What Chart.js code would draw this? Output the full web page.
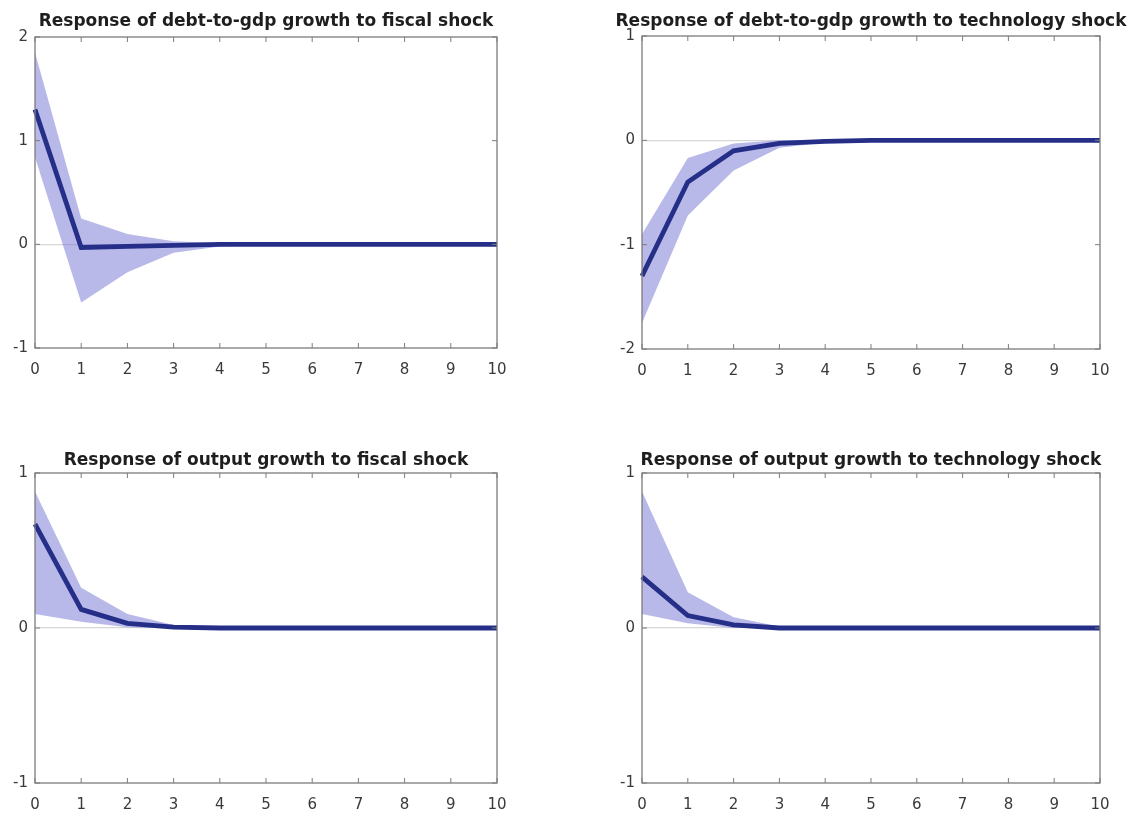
<!DOCTYPE html>
<html>
<head>
<meta charset="utf-8">
<script src="https://cdn.jsdelivr.net/npm/chart.js@4.4.1/dist/chart.umd.min.js"></script>
<style>
  body { margin:0; width:1142px; height:821px; background:#fff; position:relative; overflow:hidden; }
  canvas { position:absolute; left:0; top:0; }
  .ttl { position:absolute; font:bold 17px 'DejaVu Sans', sans-serif; color:#1e1e1e; white-space:nowrap; transform:translate(-50%,-50%); }
</style>
</head>
<body>
<canvas id="c1" width="1142" height="821"></canvas>
<canvas id="c2" width="1142" height="821"></canvas>
<canvas id="c3" width="1142" height="821"></canvas>
<canvas id="c4" width="1142" height="821"></canvas>
<div class="ttl" style="left:266px;top:20px">Response of debt-to-gdp growth to fiscal shock</div>
<div class="ttl" style="left:871px;top:20px">Response of debt-to-gdp growth to technology shock</div>
<div class="ttl" style="left:266px;top:459px">Response of output growth to fiscal shock</div>
<div class="ttl" style="left:871px;top:459px">Response of output growth to technology shock</div>

<script>
// horizons (x axis)
const horizons = ['0','1','2','3','4','5','6','7','8','9','10'];

// debt-to-gdp growth, fiscal shock
const fiscalDebtIrf   = [1.30, -0.03, -0.02, -0.01, 0.00, 0, 0, 0, 0, 0, 0];
const fiscalDebtUpper = [1.85,  0.25,  0.10,  0.03, 0.01, 0, 0, 0, 0, 0, 0];
const fiscalDebtLower = [0.84, -0.56, -0.27, -0.08, -0.02, 0, 0, 0, 0, 0, 0];
const fiscalDebtTicks = [-1, 0, 1, 2];

// debt-to-gdp growth, technology shock
const techDebtIrf   = [-1.30, -0.40, -0.10, -0.03, -0.01, 0, 0, 0, 0, 0, 0];
const techDebtUpper = [-0.90, -0.17, -0.03,  0.00,  0.00, 0, 0, 0, 0, 0, 0];
const techDebtLower = [-1.75, -0.72, -0.29, -0.07, -0.02, 0, 0, 0, 0, 0, 0];
const techDebtTicks = [-2, -1, 0, 1];

// output growth, fiscal shock
const fiscalOutIrf   = [0.67, 0.12, 0.03, 0.005, 0, 0, 0, 0, 0, 0, 0];
const fiscalOutUpper = [0.88, 0.26, 0.09, 0.02,  0.005, 0, 0, 0, 0, 0, 0];
const fiscalOutLower = [0.09, 0.04, 0.005, 0,    0, 0, 0, 0, 0, 0, 0];
const fiscalOutTicks = [-1, 0, 1];

// output growth, technology shock
const techOutIrf   = [0.33, 0.08, 0.02, 0.00, 0, 0, 0, 0, 0, 0, 0];
const techOutUpper = [0.88, 0.23, 0.07, 0.01, 0, 0, 0, 0, 0, 0, 0];
const techOutLower = [0.09, 0.03, 0.00, 0.00, 0, 0, 0, 0, 0, 0, 0];
const techOutTicks = [-1, 0, 1];

const LINE = '#262f88';
const BAND = 'rgba(118,118,212,0.52)';
const Y_W = 30, X_H = 34;

// axes box with inward ticks, matlab style
const boxPlugin = {
  id: 'box',
  afterDatasetsDraw(chart) {
    const { ctx, chartArea: a, scales: { x, y } } = chart;
    ctx.save();
    ctx.strokeStyle = '#7c7c7c';
    ctx.lineWidth = 1.3;
    ctx.strokeRect(a.left, a.top, a.right - a.left, a.bottom - a.top);
    ctx.beginPath();
    x.ticks.forEach((t, i) => {
      const px = x.getPixelForTick(i);
      ctx.moveTo(px, a.bottom); ctx.lineTo(px, a.bottom - 5);
      ctx.moveTo(px, a.top); ctx.lineTo(px, a.top + 5);
    });
    y.ticks.forEach((t, i) => {
      const py = y.getPixelForTick(i);
      ctx.moveTo(a.left, py); ctx.lineTo(a.left + 5, py);
      ctx.moveTo(a.right, py); ctx.lineTo(a.right - 5, py);
    });
    ctx.lineWidth = 1;
    ctx.stroke();
    ctx.restore();
  }
};

function irfChart(id, area, irf, upper, lower, yTicks) {
  const [L, T, R, B] = area;
  new Chart(document.getElementById(id), {
    type: 'line',
    data: {
      labels: horizons,
      datasets: [
        { data: irf, borderColor: LINE, borderWidth: 4.8, pointRadius: 0, tension: 0, fill: false,
          borderCapStyle: 'butt', borderJoinStyle: 'miter' },
        { data: upper, borderWidth: 0, borderColor: 'transparent', pointRadius: 0, tension: 0,
          backgroundColor: BAND, fill: '+1' },
        { data: lower, borderWidth: 0, borderColor: 'transparent', pointRadius: 0, tension: 0, fill: false },
      ]
    },
    options: {
      responsive: false,
      animation: false,
      layout: { padding: { left: L - Y_W, top: T, right: 1142 - R, bottom: 821 - B - X_H } },
      plugins: { legend: { display: false }, tooltip: { enabled: false } },
      scales: {
        x: {
          offset: false,
          grid: { display: false, drawTicks: false },
          border: { display: false },
          ticks: { color: '#3a3a3a', font: { family: 'DejaVu Sans', size: 15 }, padding: 13,
                   maxRotation: 0, autoSkip: false },
          afterFit: s => { s.height = X_H; },
        },
        y: {
          min: yTicks[0], max: yTicks[yTicks.length - 1],
          afterBuildTicks: s => { s.ticks = yTicks.map(v => ({ value: v })); },
          grid: { drawTicks: false, lineWidth: 1.2,
                  color: c => c.tick && c.tick.value === 0 ? '#d6d6d6' : 'rgba(0,0,0,0)' },
          border: { display: false },
          ticks: { color: '#3a3a3a', font: { family: 'DejaVu Sans', size: 15 }, padding: 7 },
          afterFit: s => { s.width = Y_W; },
        }
      }
    },
    plugins: [boxPlugin]
  });
}

irfChart('c1', [35, 37, 497, 348], fiscalDebtIrf, fiscalDebtUpper, fiscalDebtLower, fiscalDebtTicks);
irfChart('c2', [642, 36, 1100, 349], techDebtIrf, techDebtUpper, techDebtLower, techDebtTicks);
irfChart('c3', [35, 473, 497, 783], fiscalOutIrf, fiscalOutUpper, fiscalOutLower, fiscalOutTicks);
irfChart('c4', [642, 473, 1100, 783], techOutIrf, techOutUpper, techOutLower, techOutTicks);
</script>
</body>
</html>
